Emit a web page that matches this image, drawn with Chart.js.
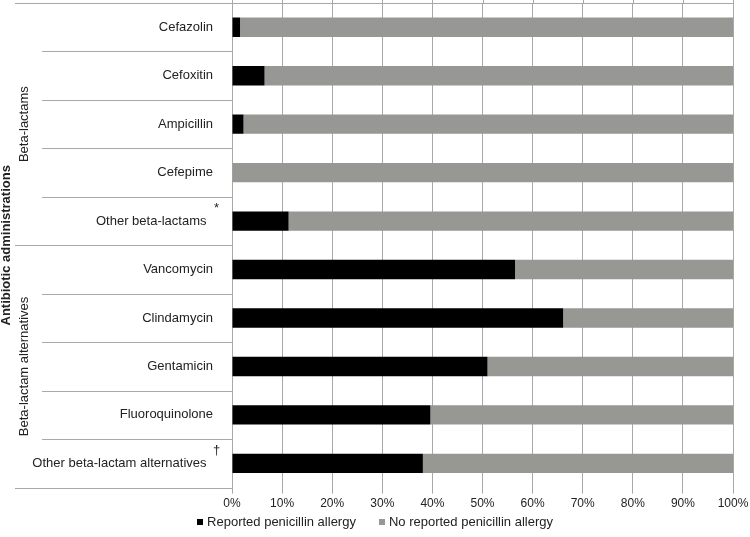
<!DOCTYPE html>
<html>
<head>
<meta charset="utf-8">
<script src="https://cdn.jsdelivr.net/npm/chart.js@4.4.1/dist/chart.umd.min.js"></script>
<style>
    html, body { margin: 0; padding: 0; background: #fff; }
</style>
</head>
<body>
<canvas id="chart" width="750" height="537"></canvas>
<script>
const categories = [
    'Cefazolin',
    'Cefoxitin',
    'Ampicillin',
    'Cefepime',
    'Other beta-lactams',
    'Vancomycin',
    'Clindamycin',
    'Gentamicin',
    'Fluoroquinolone',
    'Other beta-lactam alternatives',
];
const footnotes = ['', '', '', '', '*', '', '', '', '', '\u2020'];
const reportedAllergy = [1.6, 6.5, 2.3, 0, 11.3, 56.5, 66.1, 51.0, 39.6, 38.1];
const noReportedAllergy = [98.4, 93.5, 97.7, 100, 88.7, 43.5, 33.9, 49.0, 60.4, 61.9];
const groupNames = ['Beta-lactams', 'Beta-lactam alternatives'];
const groupSizes = [5, 5];
const axisTitle = 'Antibiotic administrations';

const FONT = '"Liberation Sans", Arial, sans-serif';
const TEXT = '#222222';
const GRID = '#a8a8a8';

// separators, group labels, footnote marks and the legend
const labelArea = {
    id: 'labelArea',
    afterDraw(chart) {
        const { ctx, chartArea, scales: { x, y } } = chart;
        const step = y.getPixelForValue(1) - y.getPixelForValue(0);
        const edge = (i) => y.getPixelForValue(i) - step / 2;

        ctx.save();
        ctx.strokeStyle = GRID;
        ctx.lineWidth = 1;

        const hline = (x1, x2, yy) => {
            const p = Math.round(yy) + 0.5;
            ctx.beginPath();
            ctx.moveTo(x1, p);
            ctx.lineTo(x2, p);
            ctx.stroke();
        };

        // gridlines run on past the top rule
        x.ticks.forEach((t, i) => {
            const px = Math.round(x.getPixelForTick(i)) + 0.5;
            ctx.beginPath();
            ctx.moveTo(px, 0);
            ctx.lineTo(px, chartArea.top);
            ctx.stroke();
        });

        hline(15, chartArea.right, edge(0));

        ctx.fillStyle = TEXT;
        let start = 0;
        groupSizes.forEach((size, g) => {
            for (let i = start + 1; i < start + size; i++) {
                hline(42, chartArea.left, edge(i));
            }
            hline(15, chartArea.left, edge(start + size));

            const mid = (edge(start) + edge(start + size)) / 2;
            ctx.save();
            ctx.translate(28, mid);
            ctx.rotate(-Math.PI / 2);
            ctx.font = `13px ${FONT}`;
            ctx.textAlign = 'center';
            ctx.textBaseline = 'alphabetic';
            ctx.fillText(groupNames[g], 0, 0);
            ctx.restore();

            start += size;
        });

        ctx.save();
        ctx.translate(10, (edge(0) + edge(categories.length)) / 2);
        ctx.rotate(-Math.PI / 2);
        ctx.font = `bold 13px ${FONT}`;
        ctx.textAlign = 'center';
        ctx.textBaseline = 'alphabetic';
        ctx.fillText(axisTitle, 0, 0);
        ctx.restore();

        ctx.font = `13px ${FONT}`;
        ctx.textAlign = 'center';
        ctx.textBaseline = 'middle';
        footnotes.forEach((mark, i) => {
            if (mark) {
                ctx.fillText(mark, chartArea.left - 15.5, y.getPixelForValue(i) - 13);
            }
        });

        // legend
        const box = 6;
        const gap = 4;
        const itemGap = 23;
        const items = chart.data.datasets.map((ds) => ({
            label: ds.label,
            color: ds.backgroundColor,
            width: box + gap + ctx.measureText(ds.label).width,
        }));
        const total = items.reduce((s, it) => s + it.width, 0) + itemGap * (items.length - 1);
        let cx = chart.width / 2 - total / 2;
        const cy = 522;
        ctx.textAlign = 'left';
        items.forEach((it) => {
            ctx.fillStyle = it.color;
            ctx.fillRect(Math.round(cx), Math.round(cy - box / 2), box, box);
            ctx.fillStyle = TEXT;
            ctx.fillText(it.label, cx + box + gap, cy);
            cx += it.width + itemGap;
        });

        ctx.restore();
    },
};

new Chart(document.getElementById('chart'), {
    type: 'bar',
    data: {
        labels: categories,
        datasets: [
            {
                label: 'Reported penicillin allergy',
                data: reportedAllergy,
                backgroundColor: '#000000',
            },
            {
                label: 'No reported penicillin allergy',
                data: noReportedAllergy,
                backgroundColor: '#979793',
            },
        ],
    },
    options: {
        indexAxis: 'y',
        responsive: false,
        maintainAspectRatio: false,
        animation: false,
        devicePixelRatio: 1,
        layout: {
            padding: { top: 3, right: 17, bottom: 23, left: 0 },
        },
        datasets: {
            bar: {
                categoryPercentage: 1,
                barPercentage: 0.4,
                borderWidth: 0,
            },
        },
        plugins: {
            legend: { display: false },
            tooltip: { enabled: false },
        },
        scales: {
            x: {
                stacked: true,
                min: 0,
                max: 100,
                border: { display: false },
                grid: {
                    color: GRID,
                    tickColor: GRID,
                    tickLength: 6,
                },
                afterFit(scale) {
                    scale.paddingLeft = 0;
                    scale.paddingRight = 0;
                },
                ticks: {
                    stepSize: 10,
                    padding: 3,
                    color: TEXT,
                    font: { family: FONT, size: 12 },
                    callback: (v) => `${v}%`,
                },
            },
            y: {
                stacked: true,
                border: { display: false },
                grid: { display: false },
                afterFit(scale) {
                    scale.width = 232;
                    scale.paddingTop = 0;
                    scale.paddingBottom = 0;
                },
                ticks: {
                    padding: 11,
                    color: TEXT,
                    font: { family: FONT, size: 13 },
                    callback(value, index) {
                        const label = categories[index];
                        return footnotes[index] ? `${label}\u2002` : label;
                    },
                },
            },
        },
    },
    plugins: [labelArea],
});
</script>
</body>
</html>
